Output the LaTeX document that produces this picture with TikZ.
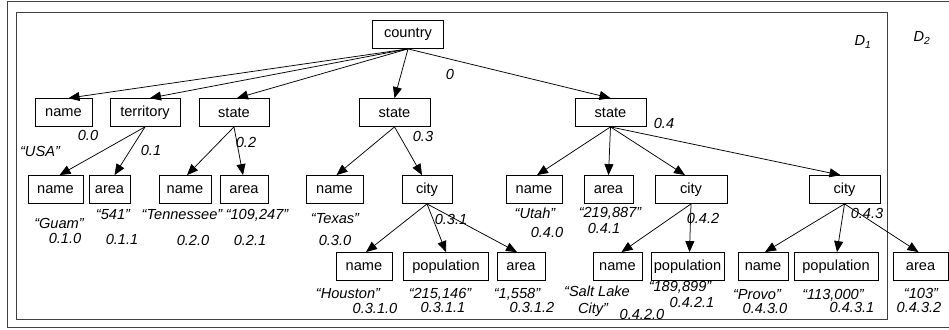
\documentclass[tikz,border=0pt]{standalone}
\usepackage{fontspec}
\setmainfont{Liberation Sans}
\usetikzlibrary{arrows.meta}
\begin{document}
\begin{tikzpicture}[x=1pt,y=-1pt,
  box/.style={draw,line width=0.8pt,minimum height=28pt,inner sep=1pt,font=\fontsize{14.6}{16}\selectfont},
  lab/.style={inner sep=0pt,font=\fontsize{14.6}{16}\selectfont\itshape},
  edge/.style={line width=0.75pt,-{Triangle[length=11pt,width=9pt]}}]
\useasboundingbox (0,0) rectangle (949,329);
% frames
\draw[line width=0.8pt,draw=black!75] (7,1.5) -- (960,1.5);
\draw[line width=0.8pt,draw=black!75] (7,1.5) -- (7,327.5) -- (960,327.5);
\draw[line width=0.8pt,draw=black!75] (16,12) rectangle (887,319);
\node[lab] (d1) at (863,42) {D\textsubscript{1}};
\node[lab] (d2) at (922,38) {D\textsubscript{2}};
% row 0
\node[box,minimum width=71pt] (country) at (408,34.5) {country};
% row 1
\node[box,minimum width=57pt] (n0) at (63.5,112.5) {name};
\node[box,minimum width=70pt] (t1) at (145,112.5) {territory};
\node[box,minimum width=70pt] (s2) at (234,112.5) {state};
\node[box,minimum width=71pt] (s3) at (394.5,112.5) {state};
\node[box,minimum width=71pt] (s4) at (610.5,112.5) {state};
% row 2
\node[box,minimum width=55pt] (n10) at (55.5,189.5) {name};
\node[box,minimum width=41pt] (a11) at (109.5,189.5) {area};
\node[box,minimum width=52pt] (n20) at (185,189.5) {name};
\node[box,minimum width=48pt] (a21) at (244,189.5) {area};
\node[box,minimum width=57pt] (n30) at (334.5,189.5) {name};
\node[box,minimum width=50pt] (c31) at (427,189.5) {city};
\node[box,minimum width=56pt] (n40) at (534,189.5) {name};
\node[box,minimum width=49pt] (a41) at (608.5,189.5) {area};
\node[box,minimum width=72pt] (c42) at (691,189.5) {city};
\node[box,minimum width=71pt] (c43) at (844.5,189.5) {city};
% row 3
\node[box,minimum width=56pt] (n310) at (364,266.5) {name};
\node[box,minimum width=85pt] (p311) at (446,266.5) {population};
\node[box,minimum width=48pt] (a312) at (521,266.5) {area};
\node[box,minimum width=49pt] (n420) at (617.5,266.5) {name};
\node[box,minimum width=73pt] (p421) at (687.5,266.5) {population};
\node[box,minimum width=50pt] (n430) at (763,266.5) {name};
\node[box,minimum width=84pt] (p431) at (836,266.5) {population};
\node[box,minimum width=55pt] (a432) at (920.5,266.5) {area};
% edges
\foreach \c/\dx in {n0/5,t1/5,s2/3,s3/0,s4/0}
  \draw[edge] (country.south) -- ([xshift=\dx pt]\c.north);
\draw[edge] (t1.south) -- ([xshift=4pt]n10.north);
\draw[edge] (t1.south) -- ([xshift=5pt]a11.north);
\draw[edge] (s2.south) -- ([xshift=2pt]n20.north);
\draw[edge] (s2.south) -- ([xshift=-1pt]a21.north);
\draw[edge] (s3.south) -- ([xshift=2pt]n30.north);
\draw[edge] (s3.south) -- ([xshift=-5pt]c31.north);
\draw[edge] (s4.south) -- ([xshift=3pt]n40.north);
\draw[edge] (s4.south) -- (a41.north);
\draw[edge] (s4.south) -- ([xshift=-6pt]c42.north);
\draw[edge] (s4.south) -- ([xshift=-4pt]c43.north);
\draw[edge] (c31.south) -- ([xshift=2pt]n310.north);
\draw[edge] (c31.south) -- (p311.north);
\draw[edge] (c31.south) -- ([xshift=-4pt]a312.north);
\draw[edge] (c42.south) -- ([xshift=4pt]n420.north);
\draw[edge] (c42.south) -- ([xshift=2pt]p421.north);
\draw[edge] (c43.south) -- ([xshift=2pt]n430.north);
\draw[edge] (c43.south) -- ([xshift=1pt]p431.north);
\draw[edge] (c43.south) -- ([xshift=-2pt]a432.north);
% labels
\node[lab] (l0) at (450,74.5) {0};
\node[lab] (l00) at (88,135) {0.0};
\node[lab] (lusa) at (40,151) {“USA”};
\node[lab] (l01) at (151,150) {0.1};
\node[lab] (l02) at (246,142) {0.2};
\node[lab] (l03) at (423,136) {0.3};
\node[lab] (l04) at (664,123) {0.4};
\node[lab] (lguam) at (59,223) {“Guam”};
\node[lab] (l010) at (65,238) {0.1.0};
\node[lab] (l541) at (113,215) {“541”};
\node[lab] (l011) at (122,239) {0.1.1};
\node[lab] (lten) at (182,215) {“Tennessee”};
\node[lab] (l020) at (193,240) {0.2.0};
\node[lab] (l109) at (257,215) {“109,247”};
\node[lab] (l021) at (250,240) {0.2.1};
\node[lab] (ltex) at (335,219) {“Texas”};
\node[lab] (l030) at (335,240) {0.3.0};
\node[lab] (l031) at (451,219) {0.3.1};
\node[lab] (luta) at (535,213) {“Utah”};
\node[lab] (l040) at (547,232) {0.4.0};
\node[lab] (l219) at (610,213) {“219,887”};
\node[lab] (l041) at (604,228) {0.4.1};
\node[lab] (l042) at (703,218) {0.4.2};
\node[lab] (l043) at (867,213) {0.4.3};
\node[lab] (lhou) at (348,294) {“Houston”};
\node[lab] (l3110) at (375,308) {0.3.1.0};
\node[lab] (l215) at (440,294.5) {“215,146”};
\node[lab] (l3111) at (443,307.5) {0.3.1.1};
\node[lab] (l1558) at (517,294.5) {“1,558”};
\node[lab] (l3112) at (532,307.5) {0.3.1.2};
\node[lab] (lslc) at (597,291) {“Salt Lake};
\node[lab] (lcity) at (593,310) {City”};
\node[lab] (l4200) at (642,314) {0.4.2.0};
\node[lab] (l189) at (680,287) {“189,899”};
\node[lab] (l4211) at (692,302) {0.4.2.1};
\node[lab] (lpro) at (757,295) {“Provo”};
\node[lab] (l4300) at (765,308) {0.4.3.0};
\node[lab] (l113) at (833,295) {“113,000”};
\node[lab] (l4311) at (852,307) {0.4.3.1};
\node[lab] (l103) at (921,293) {“103”};
\node[lab] (l4312) at (919,307) {0.4.3.2};
\end{tikzpicture}
\end{document}
